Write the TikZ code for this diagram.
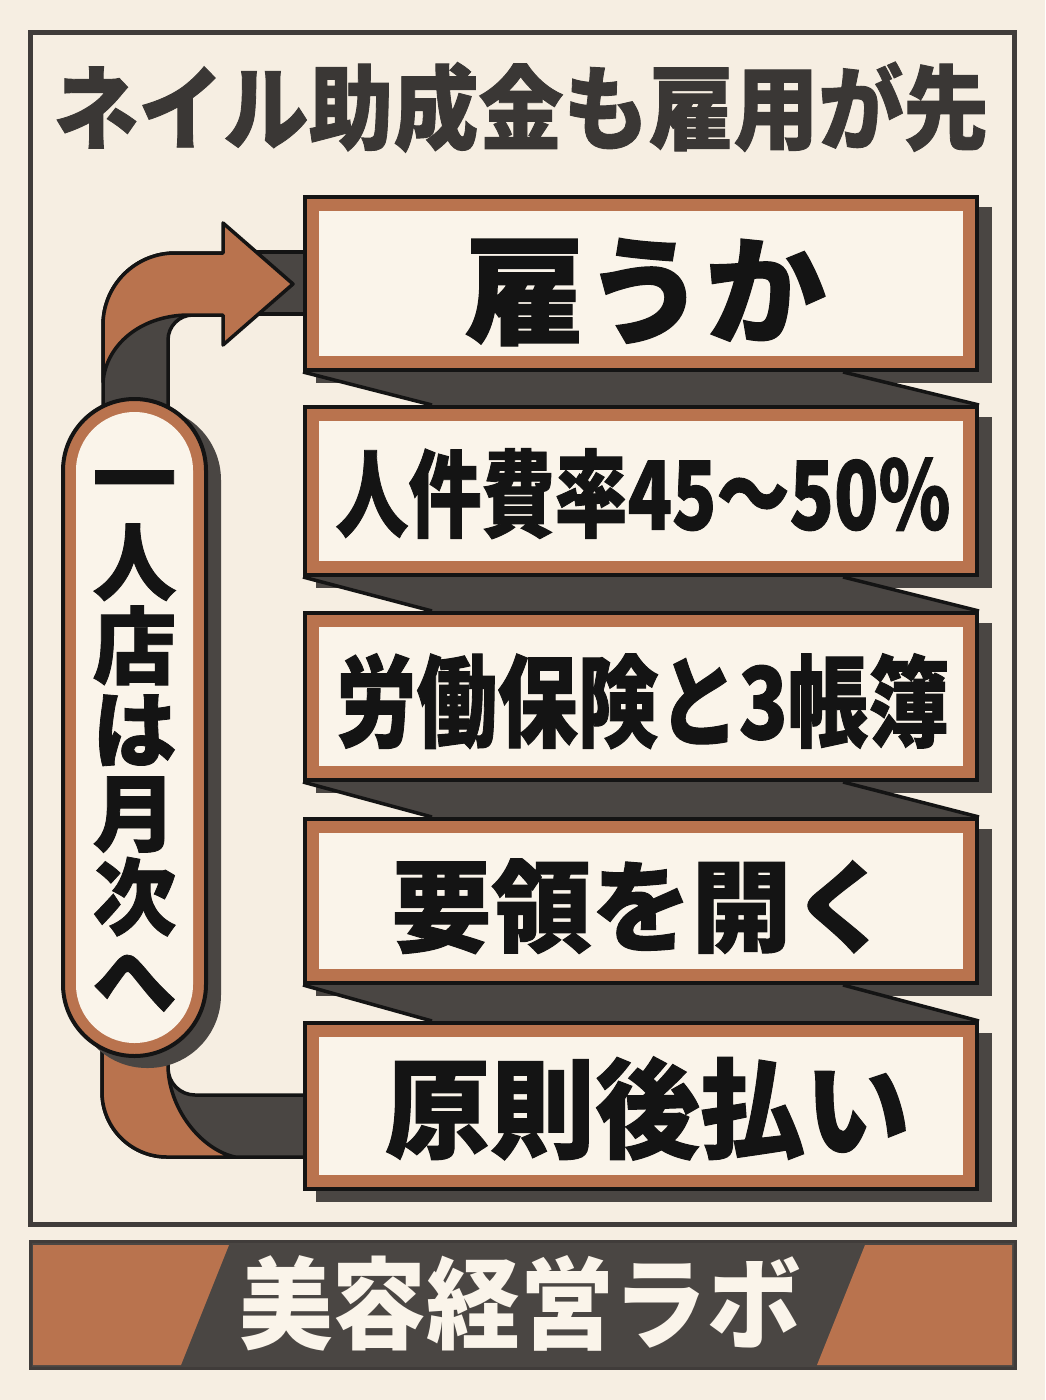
\documentclass[tikz,border=0pt]{standalone}
\usepackage{fontspec}
\usepackage{graphicx}
\newfontfamily\cjk{Noto Sans CJK JP}[BoldFeatures={FakeBold=1}]
\newfontfamily\cjkplain{Noto Sans CJK JP}
\definecolor{bgc}{HTML}{F6EEE2}
\definecolor{creamc}{HTML}{FAF4EA}
\definecolor{brownc}{HTML}{B9734E}
\definecolor{grayc}{HTML}{4A4643}
\definecolor{inkc}{HTML}{141414}
\definecolor{framec}{HTML}{403C3A}
\definecolor{titlec}{HTML}{3A3735}
\newcommand\fitw[2]{\resizebox{#1}{\height}{#2}}
\newcommand\fsz[1]{\cjk\bfseries\fontsize{#1}{#1}\selectfont}
\newcommand\fszp[1]{\cjkplain\bfseries\fontsize{#1}{#1}\selectfont}
\begin{document}
\begin{tikzpicture}[x=1pt,y=-1pt,
  outl/.style={draw=inkc, line width=3.5pt, line join=round},
  boxst/.style={rectangle, draw=inkc, line width=4pt, fill=brownc, minimum width=672pt, inner sep=0pt},
  pillst/.style={rectangle, draw=inkc, line width=4pt, fill=brownc, minimum width=143pt, minimum height=657pt, rounded corners=71.5pt, inner sep=0pt},
  txt/.style={inner sep=0pt, anchor=base, text=inkc},
]
\useasboundingbox (0,0) rectangle (1045,1400);
\fill[bgc] (0,0) rectangle (1045,1400);
% frame
\draw[framec, line width=5pt] (30.5,32) rectangle (1014.5,1224.5);
% title
\node[txt, text=titlec, font=\fsz{92}] (title) at (521,142.5) {\fitw{935pt}{ネイル助成金も雇用が先}};

% top connector
\fill[grayc] (240,252) rectangle (305,314);
\draw[inkc, line width=3.5pt] (240,252) -- (305,252) (240,314) -- (305,314);
\path[fill=grayc, outl] (103,430) -- (103,325) .. controls (103,285.2) and (135.2,253) .. (175,253) -- (223,253) -- (223,315) -- (193,315) .. controls (179.2,315) and (168,326.2) .. (168,340) -- (168,430) -- cycle;
\path[fill=brownc, outl] (103,382) -- (103,325) .. controls (103,285.2) and (135.2,253) .. (175,253) -- (223,253) -- (223,223) -- (293,284) -- (223,345) -- (223,315) -- (187,315) .. controls (140,316) and (106,345) .. (103,382) -- cycle;

% bottom connector
\path[fill=grayc, outl] (102,1030) -- (102,1092) .. controls (102,1127.9) and (131.1,1157) .. (167,1157) -- (305,1157) -- (305,1095) -- (195,1095) .. controls (180.1,1095) and (168,1082.9) .. (168,1068) -- (168,1030) -- cycle;
\path[fill=brownc, outl] (102,1030) -- (102,1092) .. controls (102,1127.9) and (131.1,1157) .. (167,1157) -- (235,1157) .. controls (203,1150) and (170,1112) .. (168,1068) -- (168,1030) -- cycle;

% box shadows
\foreach \t/\b in {195/372,405/577,611/782,817/985,1021/1191}
  \fill[grayc] (316,\t+12) rectangle (992,\b+11);
% ribbons between boxes
\foreach \b/\t in {372/405,577/611,782/817,985/1021}{
  \fill[grayc] (303,\b) -- (843,\b) -- (979,\t) -- (432,\t) -- cycle;
  \draw[inkc, line width=3.5pt] (303,\b) -- (432,\t);
  \draw[inkc, line width=3.5pt] (843,\b) -- (979,\t);
}
% boxes
\foreach \n/\c/\h in {b1/283.5/173, b2/491/168, b3/696.5/167, b4/901/164, b5/1106/166}{
  \node[boxst, minimum height=\h pt] (\n) at (641,\c) {};
  \fill[creamc] ([xshift=16pt,yshift=-16pt]\n.north west) rectangle ([xshift=-16pt,yshift=16pt]\n.south east);
}
\node[txt, font=\fsz{118}] (t1) at (645,335) {\fitw{362pt}{雇うか}};
\node[txt, font=\fsz{95}] (t2) at (643,529.6) {\fitw{615pt}{人件費率45～50\%}};
\node[txt, font=\fsz{100}] (t3) at (642.5,739) {\fitw{613pt}{労働保険と3帳簿}};
\node[txt, font=\fsz{100}] (t4) at (641.5,944) {\fitw{500pt}{要領を開く}};
\node[txt, font=\fsz{108}] (t5) at (647.5,1149.5) {\fitw{525pt}{原則後払い}};

% pill
\fill[grayc, rounded corners=73pt] (74,407) rectangle (221,1068);
\node[pillst] (pill) at (134.5,727.5) {};
\fill[creamc, rounded corners=58.5pt] (76,412) rectangle (193,1043);
\foreach \ch [count=\i from 0] in {一,人,店,は,月,次,へ}
  \node[txt, font=\fsz{84}] (p\i) at (134.5,478+83.67*\i+32) {\ch};

% banner
\fill[grayc] (29,1240) rectangle (1017,1370);
\draw[framec, line width=3pt] (30.5,1241.5) rectangle (1015.5,1368.5);
\fill[brownc] (33,1245) -- (229,1245) -- (181,1365) -- (33,1365) -- cycle;
\fill[brownc] (865,1245) -- (1012,1245) -- (1012,1365) -- (817,1365) -- cycle;
\node[txt, text=creamc, font=\fszp{100}] (brand) at (520,1341) {\fitw{562pt}{美容経営ラボ}};
\end{tikzpicture}
\end{document}
